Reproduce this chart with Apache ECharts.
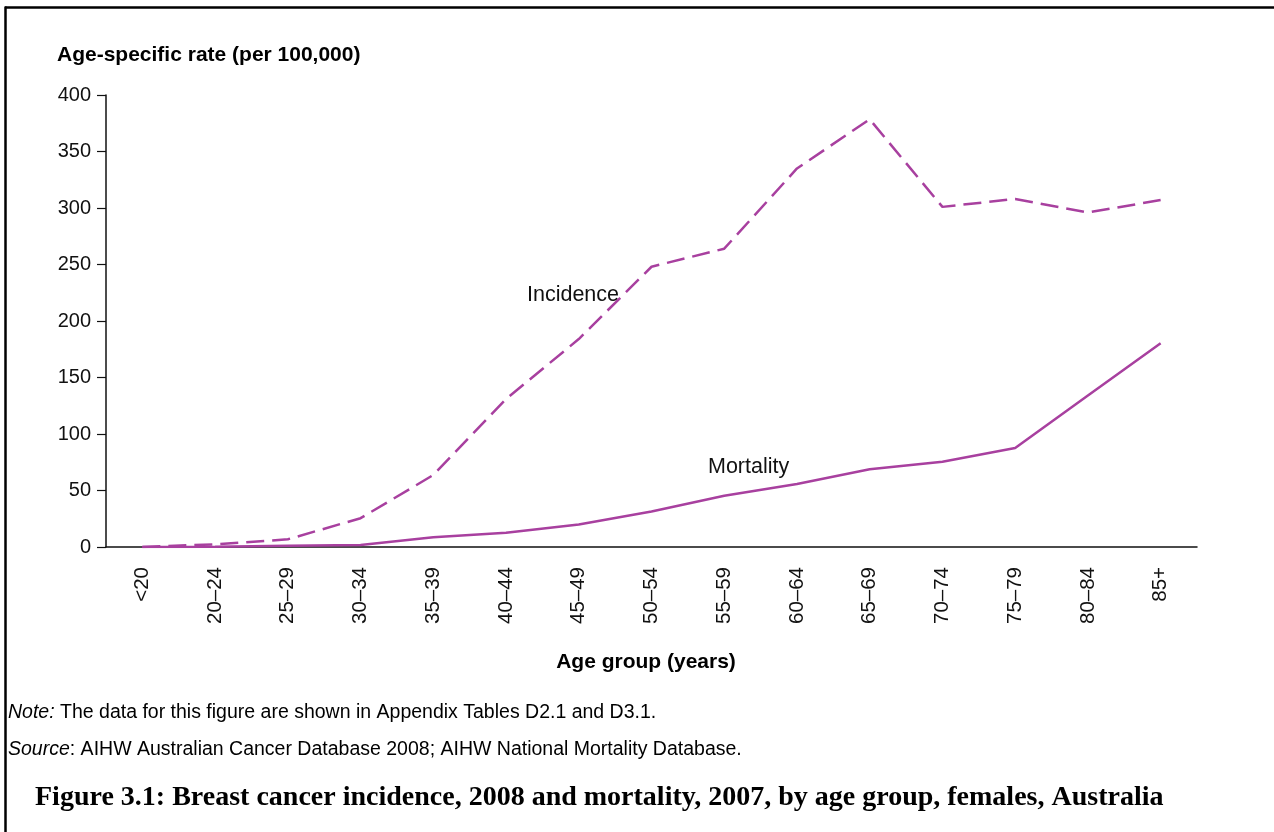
<!DOCTYPE html>
<html>
<head>
<meta charset="utf-8">
<script src="https://cdn.jsdelivr.net/npm/echarts@6/dist/echarts.min.js"></script>
<style>
html,body{margin:0;padding:0;background:#fff;}
#chart{width:1274px;height:832px;}
</style>
</head>
<body>
<div id="chart"></div>
<script>
const categories = ['<20','20–24','25–29','30–34','35–39','40–44','45–49','50–54','55–59','60–64','65–69','70–74','75–79','80–84','85+'];
const incidence = [0, 2.4, 6.8, 25.5, 63.7, 131, 184, 248, 264, 335, 378.5, 301, 308, 296, 307];
const mortality = [0, 0.3, 1, 1.8, 8.6, 12.7, 20, 31.5, 45.4, 55.8, 68.8, 75.5, 87.6, 134, 180.3];
const yTicks = [0, 50, 100, 150, 200, 250, 300, 350, 400];

const lineColor = '#a8409f';
const chart = echarts.init(document.getElementById('chart'), null, {renderer:'canvas'});
chart.setOption({
  animation: false,
  backgroundColor: '#fff',
  grid: {left: 106, right: 77, top: 95, bottom: 285},
  xAxis: {
    type: 'category',
    data: categories,
    boundaryGap: true,
    axisLine: {lineStyle: {color: '#111', width: 1.5}},
    axisTick: {alignWithLabel: true, length: 9, lineStyle: {color: '#111', width: 1.2}},
    axisLabel: {rotate: 90, margin: 20, color: '#111', fontSize: 20.5, fontFamily: 'Liberation Sans, Arial, sans-serif', interval: 0}
  },
  yAxis: {
    type: 'value',
    min: yTicks[0], max: yTicks[yTicks.length-1], interval: 50,
    axisLine: {show: true, lineStyle: {color: '#111', width: 1.5}},
    axisTick: {show: true, length: 9, lineStyle: {color: '#111', width: 1.2}},
    splitLine: {show: false},
    axisLabel: {margin: 15, color: '#111', fontSize: 20, fontFamily: 'Liberation Sans, Arial, sans-serif'}
  },
  series: [
    {name: 'Incidence', type: 'line', data: incidence, symbol: 'none',
     lineStyle: {color: lineColor, width: 2.5, type: [18, 8]}},
    {name: 'Mortality', type: 'line', data: mortality, symbol: 'none',
     lineStyle: {color: lineColor, width: 2.5, type: 'solid'}}
  ],
  graphic: [
    {type: 'line', shape: {x1: 5, y1: 7.5, x2: 1274, y2: 7.5}, style: {stroke: '#000', lineWidth: 2.5}},
    {type: 'line', shape: {x1: 5.5, y1: 6.5, x2: 5.5, y2: 832}, style: {stroke: '#000', lineWidth: 2.5}},
    {type: 'text', left: 57, top: 45, style: {text: 'Age-specific rate (per 100,000)', fill: '#000', font: 'bold 21px "Liberation Sans", Arial, sans-serif'}},
    {type: 'text', x: 646, y: 662, style: {text: 'Age group (years)', fill: '#000', align: 'center', verticalAlign: 'middle', font: 'bold 21px "Liberation Sans", Arial, sans-serif'}},
    {type: 'text', x: 527, y: 295, style: {text: 'Incidence', fill: '#111', verticalAlign: 'middle', font: '21.5px "Liberation Sans", Arial, sans-serif'}},
    {type: 'text', x: 708, y: 467, style: {text: 'Mortality', fill: '#111', verticalAlign: 'middle', font: '21.5px "Liberation Sans", Arial, sans-serif'}},
    {type: 'text', x: 8, y: 713, style: {verticalAlign: 'middle', rich: {i: {fontStyle: 'italic', fontSize: 19.5, fontFamily: 'Liberation Sans', fill: '#000'}, n: {fontSize: 19.5, fontFamily: 'Liberation Sans', fill: '#000'}}, text: '{i|Note:}{n| The data for this figure are shown in Appendix Tables D2.1 and D3.1.}'}},
    {type: 'text', x: 8, y: 750, style: {verticalAlign: 'middle', rich: {i: {fontStyle: 'italic', fontSize: 19.5, fontFamily: 'Liberation Sans', fill: '#000'}, n: {fontSize: 19.5, fontFamily: 'Liberation Sans', fill: '#000'}}, text: '{i|Source}{n|: AIHW Australian Cancer Database 2008; AIHW National Mortality Database.}'}},
    {type: 'text', x: 35, y: 798, style: {text: 'Figure 3.1: Breast cancer incidence, 2008 and mortality, 2007, by age group, females, Australia', fill: '#000', verticalAlign: 'middle', font: 'bold 28px "Liberation Serif", "Times New Roman", serif'}}
  ]
});
</script>
</body>
</html>
